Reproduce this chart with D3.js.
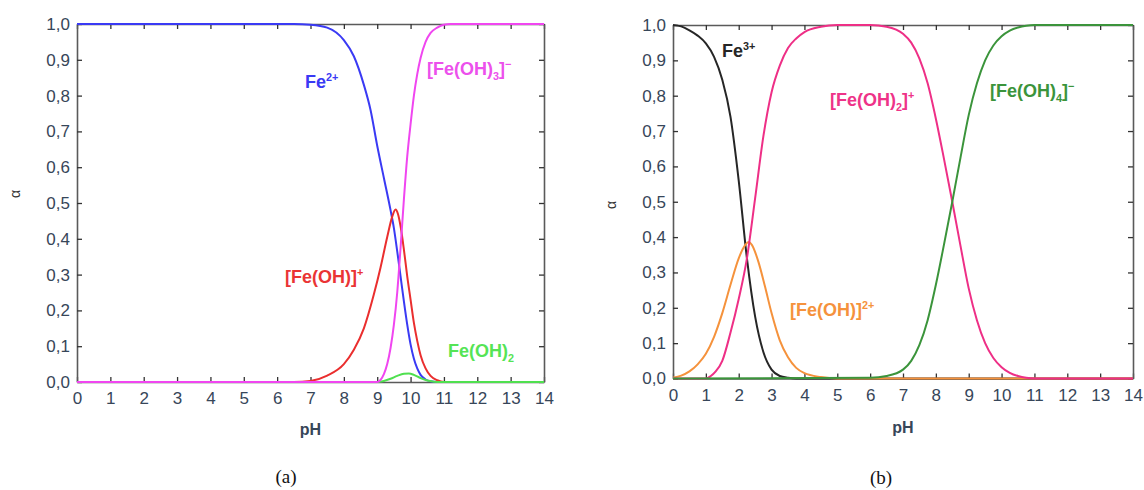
<!DOCTYPE html>
<html>
<head>
<meta charset="utf-8">
<script src="https://cdn.jsdelivr.net/npm/d3@7"></script>
<style>
  html, body { margin: 0; padding: 0; background: #fff; }
  svg { display: block; }
</style>
</head>
<body>
<svg id="chart" width="1144" height="490"></svg>
<script>
// ---------- data ----------
const xTicks = [0,1,2,3,4,5,6,7,8,9,10,11,12,13,14];
const yTicks = [0,0.1,0.2,0.3,0.4,0.5,0.6,0.7,0.8,0.9,1.0];
const xTitle = "pH";
const yTitle = "α";
const captions = ["(a)", "(b)"];

// (a) Fe(II) system: [pH, alpha]
const fe2 = [[0,1],[6.5,1],[7,0.998],[7.5,0.99],[8,0.955],[8.3,0.91],[8.6,0.83],[8.8,0.76],[9,0.66],[9.2,0.57],[9.4,0.48],[9.5,0.43],[9.6,0.365],[9.7,0.295],[9.8,0.225],[9.9,0.16],[10,0.105],[10.1,0.065],[10.2,0.038],[10.3,0.02],[10.45,0.007],[10.6,0.002],[10.8,0],[14,0]];
const feOH = [[0,0],[6.5,0],[7,0.003],[7.5,0.018],[8,0.05],[8.3,0.09],[8.6,0.15],[8.9,0.245],[9.1,0.32],[9.3,0.405],[9.45,0.462],[9.55,0.482],[9.62,0.47],[9.7,0.435],[9.8,0.37],[9.9,0.295],[10,0.23],[10.1,0.165],[10.2,0.115],[10.3,0.075],[10.45,0.038],[10.6,0.017],[10.8,0.005],[11,0],[14,0]];
const feOH2 = [[0,0],[9,0],[9.2,0.003],[9.4,0.009],[9.6,0.017],[9.8,0.023],[9.95,0.024],[10.1,0.02],[10.3,0.011],[10.5,0.004],[10.7,0.001],[10.9,0],[14,0]];
const feOH3 = [[0,0],[9,0],[9.1,0.006],[9.2,0.022],[9.3,0.05],[9.4,0.095],[9.5,0.16],[9.6,0.25],[9.7,0.375],[9.8,0.51],[9.9,0.63],[10,0.72],[10.1,0.8],[10.2,0.86],[10.3,0.905],[10.45,0.95],[10.6,0.975],[10.8,0.99],[11,0.998],[11.2,1],[14,1]];

// (b) Fe(III) system: [pH, alpha]
const fe3 = [[0,1],[0.25,0.996],[0.5,0.985],[0.75,0.97],[1,0.948],[1.25,0.91],[1.5,0.845],[1.75,0.74],[2,0.56],[2.25,0.34],[2.5,0.175],[2.75,0.075],[3,0.025],[3.25,0.007],[3.5,0.002],[3.75,0],[14,0]];
const feOH_b = [[0,0.002],[0.25,0.008],[0.5,0.02],[0.75,0.04],[1,0.07],[1.25,0.118],[1.5,0.185],[1.75,0.265],[2,0.34],[2.2,0.378],[2.3,0.386],[2.4,0.378],[2.6,0.33],[2.8,0.26],[3,0.185],[3.25,0.108],[3.5,0.06],[3.75,0.03],[4,0.015],[4.5,0.004],[5,0],[14,0]];
const feOH2_b = [[0,0],[1,0],[1.15,0.007],[1.3,0.02],[1.5,0.05],[1.75,0.13],[2,0.225],[2.25,0.34],[2.5,0.51],[2.75,0.685],[3,0.81],[3.25,0.885],[3.5,0.935],[3.75,0.962],[4,0.98],[4.5,0.995],[5,1],[6,1],[6.5,0.995],[7,0.975],[7.25,0.95],[7.5,0.905],[7.75,0.835],[8,0.735],[8.25,0.62],[8.5,0.5],[8.75,0.375],[9,0.255],[9.25,0.165],[9.5,0.1],[9.75,0.058],[10,0.032],[10.25,0.016],[10.5,0.007],[10.75,0.002],[11,0],[14,0]];
const feOH4_b = [[0,0],[6,0.002],[6.5,0.007],[7,0.025],[7.25,0.05],[7.5,0.095],[7.75,0.165],[8,0.265],[8.25,0.38],[8.5,0.5],[8.75,0.625],[9,0.745],[9.25,0.835],[9.5,0.9],[9.75,0.942],[10,0.968],[10.25,0.984],[10.5,0.993],[10.75,0.998],[11,1],[14,1]];

// series label texts: [text, mode]
const labFe2 = [["Fe"],["2+","sup"]];
const labFeOH = [["[Fe(OH)]"],["+","sup"]];
const labFeOH2 = [["Fe(OH)"],["2","sub"]];
const labFeOH3 = [["[Fe(OH)"],["3","sub"],["]"],["−","sup"]];
const labFe3 = [["Fe"],["3+","sup"]];
const labFeOHb = [["[Fe(OH)]"],["2+","sup"]];
const labFeOH2b = [["[Fe(OH)"],["2","sub"],["]"],["+","sup"]];
const labFeOH4b = [["[Fe(OH)"],["4","sub"],["]"],["−","sup"]];

// ---------- layout / styles ----------
const FONT = "'Liberation Sans', Arial, Helvetica, sans-serif";
const TICK_COLOR = "#374659";
const svg = d3.select("#chart");

const panels = [
  {
    box: {left: 77, right: 544, top: 24, bottom: 382},
    series: [
      {data: fe2,   color: "#3a3af4"},
      {data: feOH,  color: "#ea2e2e"},
      {data: feOH2, color: "#4fe04f"},
      {data: feOH3, color: "#f046f0"}
    ],
    labels: [
      {parts: labFe2,   x: 305, y: 88,  color: "#3a3af4"},
      {parts: labFeOH3, x: 427, y: 75,  color: "#ec50ec"},
      {parts: labFeOH,  x: 285, y: 283, color: "#ea3434"},
      {parts: labFeOH2, x: 448, y: 357, color: "#55e455"}
    ],
    alpha: [15, 194],
    xTitleY: 435,
    caption: captions[0], capX: 286, capY: 483
  },
  {
    box: {left: 673, right: 1133, top: 25, bottom: 378.5},
    series: [
      {data: fe3,     color: "#262626"},
      {data: feOH_b,  color: "#f5923c"},
      {data: feOH2_b, color: "#ee2f86"},
      {data: feOH4_b, color: "#3b943b"}
    ],
    labels: [
      {parts: labFe3,    x: 722, y: 57,  color: "#262626"},
      {parts: labFeOH2b, x: 830, y: 106, color: "#ee3388"},
      {parts: labFeOH4b, x: 990, y: 97,  color: "#3b943b"},
      {parts: labFeOHb,  x: 790, y: 316, color: "#f5923c"}
    ],
    alpha: [611, 205],
    xTitleY: 433,
    caption: captions[1], capX: 881, capY: 484
  }
];

function richLabel(g, L, size) {
  const t = g.append("text")
    .attr("x", L.x).attr("y", L.y)
    .attr("fill", L.color)
    .style("font-family", FONT)
    .style("font-weight", "bold")
    .style("font-size", size + "px");
  L.parts.forEach(([s, mode]) => {
    const ts = t.append("tspan").text(s);
    if (mode === "sup") ts.attr("y", L.y - 7).style("font-size", (size * 0.6) + "px");
    else if (mode === "sub") ts.attr("y", L.y + 5).style("font-size", (size * 0.6) + "px");
    else ts.attr("y", L.y);
  });
}

panels.forEach(P => {
  const b = P.box;
  const x = d3.scaleLinear().domain([xTicks[0], xTicks[xTicks.length - 1]]).range([b.left, b.right]);
  const y = d3.scaleLinear().domain([0, 1]).range([b.bottom, b.top]);
  const g = svg.append("g");
  const fmt = v => d3.format(".1f")(v).replace(".", ",");

  const styleAxis = sel => {
    sel.select(".domain").attr("stroke", "#5a5a5a").attr("stroke-width", 1.6);
    sel.selectAll(".tick line").attr("stroke", "#333").attr("stroke-width", 1.3);
    sel.selectAll(".tick text")
      .attr("fill", TICK_COLOR)
      .style("font-family", FONT)
      .style("font-size", "17px");
  };

  g.append("g").attr("transform", `translate(0,${b.bottom})`)
    .call(d3.axisBottom(x).tickValues(xTicks).tickSize(-5).tickSizeOuter(0).tickPadding(10).tickFormat(d3.format("d")))
    .call(styleAxis);
  g.append("g").attr("transform", `translate(0,${b.top})`)
    .call(d3.axisTop(x).tickValues(xTicks).tickSize(-5).tickSizeOuter(0).tickFormat(""))
    .call(styleAxis);
  g.append("g").attr("transform", `translate(${b.left},0)`)
    .call(d3.axisLeft(y).tickValues(yTicks).tickSize(-5).tickSizeOuter(0).tickPadding(7).tickFormat(fmt))
    .call(styleAxis);
  g.append("g").attr("transform", `translate(${b.right},0)`)
    .call(d3.axisRight(y).tickValues(yTicks).tickSize(-5).tickSizeOuter(0).tickFormat(""))
    .call(styleAxis);

  const line = d3.line().x(d => x(d[0])).y(d => y(d[1])).curve(d3.curveMonotoneX);
  P.series.forEach(s => {
    g.append("path").datum(s.data)
      .attr("d", line)
      .attr("fill", "none")
      .attr("stroke", s.color)
      .attr("stroke-width", 2)
      .attr("stroke-linejoin", "round");
  });

  P.labels.forEach(L => richLabel(g, L, 18));

  g.append("text")
    .attr("x", (b.left + b.right) / 2).attr("y", P.xTitleY)
    .attr("text-anchor", "middle")
    .attr("fill", TICK_COLOR)
    .style("font-family", FONT).style("font-weight", "bold").style("font-size", "16px")
    .text(xTitle);

  g.append("text")
    .attr("transform", `translate(${P.alpha[0]},${P.alpha[1]}) rotate(-90)`)
    .attr("text-anchor", "middle")
    .attr("dy", "0.35em")
    .attr("fill", "#333")
    .style("font-family", FONT).style("font-size", "14px")
    .text(yTitle);

  g.append("text")
    .attr("x", P.capX).attr("y", P.capY)
    .attr("text-anchor", "middle")
    .attr("fill", "#111")
    .style("font-family", "'Liberation Serif', 'Times New Roman', serif")
    .style("font-size", "19px")
    .text(P.caption);
});
</script>
</body>
</html>
